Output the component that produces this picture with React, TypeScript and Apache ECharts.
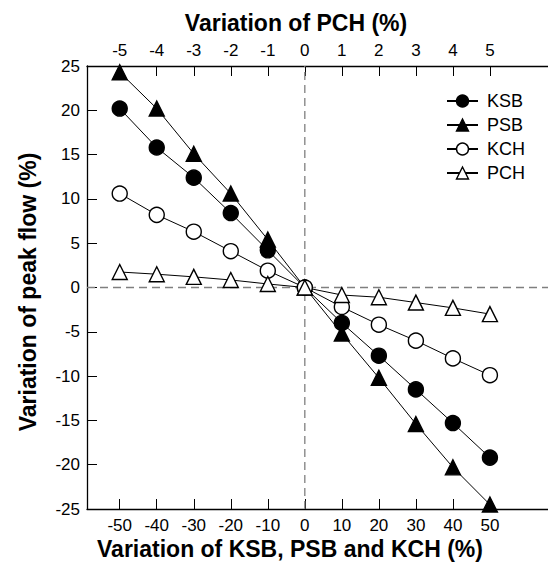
import React, { useEffect, useRef } from "react";
import * as echarts from "echarts";

const xValues = [-50, -40, -30, -20, -10, 0, 10, 20, 30, 40, 50];
const topTicks = [-5, -4, -3, -2, -1, 0, 1, 2, 3, 4, 5];
const ksb = [20.2, 15.8, 12.4, 8.4, 4.2, 0, -4.0, -7.7, -11.5, -15.3, -19.2];
const psb = [24.3, 20.2, 15.1, 10.6, 5.4, 0, -5.2, -10.2, -15.4, -20.3, -24.5];
const kch = [10.6, 8.2, 6.3, 4.1, 1.9, 0, -2.2, -4.2, -6.0, -8.0, -9.9];
const pch = [1.75, 1.5, 1.2, 0.85, 0.4, 0, -0.85, -1.1, -1.7, -2.3, -3.0];

const FONT = "'Liberation Sans', Arial, sans-serif";

export default function App() {
  const ref = useRef<HTMLDivElement>(null);
  useEffect(() => {
    if (!ref.current) return;
    const chart = echarts.init(ref.current, undefined, { renderer: "svg" });
    const xmin = -58.84;
    const xmax = 65.69;
    const pair = (ys: number[]) => xValues.map((x, i) => [x, ys[i]]);
    const mk = (name: string, ys: number[], symbol: string, filled: boolean, size: number) => ({
      name,
      type: "line",
      data: pair(ys),
      symbol,
      symbolSize: size,
      showAllSymbol: true,
      lineStyle: { color: "#000", width: 1, type: "solid" },
      itemStyle: { color: filled ? "#000" : "#fff", borderColor: "#000", borderWidth: 1.4 },
      z: 3,
    });
    const refLine = (data: number[][]) => ({
      type: "line",
      data,
      symbol: "none",
      silent: true,
      lineStyle: { color: "#7f7f7f", type: [8, 5], width: 1.3 },
      z: 1,
    });
    const series: any[] = [
      refLine([[xmin, 0], [xmax, 0]]),
      refLine([[0, -25], [0, 25]]),
      mk("KSB", ksb, "circle", true, 15),
      mk("PSB", psb, "triangle", true, 15),
      mk("KCH", kch, "circle", false, 15),
      mk("PCH", pch, "triangle", false, 15),
    ];
    const option: any = {
      animation: false,
      backgroundColor: "#fff",
      textStyle: { fontFamily: FONT },
      grid: { left: 87, right: 0, top: 66, bottom: 53, containLabel: false },
      legend: {
        orient: "vertical",
        left: 446,
        top: 92,
        padding: 0,
        itemWidth: 31,
        itemHeight: 15,
        itemGap: 6,
        itemStyle: { borderWidth: 1.4 },
        textStyle: { fontSize: 18, color: "#000", fontFamily: FONT, padding: [0, 0, 0, 4] },
        data: ["KSB", "PSB", "KCH", "PCH"],
      },
      xAxis: [
        {
          type: "value",
          min: xmin,
          max: xmax,
          position: "bottom",
          axisLine: { onZero: false, lineStyle: { color: "#000", width: 1.3 } },
          axisTick: { inside: true, length: 10, customValues: xValues, lineStyle: { color: "#000" } },
          axisLabel: { customValues: xValues, fontSize: 17, color: "#000", margin: 8, fontFamily: FONT },
          splitLine: { show: false },
        },
        {
          type: "value",
          min: xmin / 10,
          max: xmax / 10,
          position: "top",
          axisLine: { onZero: false, lineStyle: { color: "#000", width: 1.3 } },
          axisTick: { inside: true, length: 10, customValues: topTicks, lineStyle: { color: "#000" } },
          axisLabel: { customValues: topTicks, fontSize: 17, color: "#000", margin: 7, fontFamily: FONT },
          splitLine: { show: false },
        },
      ],
      yAxis: {
        type: "value",
        min: -25,
        max: 25,
        interval: 5,
        axisLine: { show: true, onZero: false, lineStyle: { color: "#000", width: 1.3 } },
        axisTick: { show: true, inside: true, length: 10, lineStyle: { color: "#000" } },
        axisLabel: { fontSize: 17, color: "#000", margin: 7, fontFamily: FONT },
        splitLine: { show: false },
      },
      graphic: [
        {
          type: "text",
          x: 296,
          y: 23,
          style: { text: "Variation of PCH (%)", font: "bold 23px " + FONT, fill: "#000", align: "center", verticalAlign: "middle" },
        },
        {
          type: "text",
          x: 290,
          y: 549,
          style: { text: "Variation of KSB, PSB and KCH (%)", font: "bold 23px " + FONT, fill: "#000", align: "center", verticalAlign: "middle" },
        },
        {
          type: "text",
          x: 28,
          y: 292,
          rotation: Math.PI / 2,
          style: { text: "Variation of peak flow (%)", font: "bold 23px " + FONT, fill: "#000", align: "center", verticalAlign: "middle" },
        },
      ],
      series,
    };
    chart.setOption(option);
    return () => chart.dispose();
  }, []);
  return <div ref={ref} style={{ width: 548, height: 562, position: "absolute", left: 0, top: 0 }} />;
}
